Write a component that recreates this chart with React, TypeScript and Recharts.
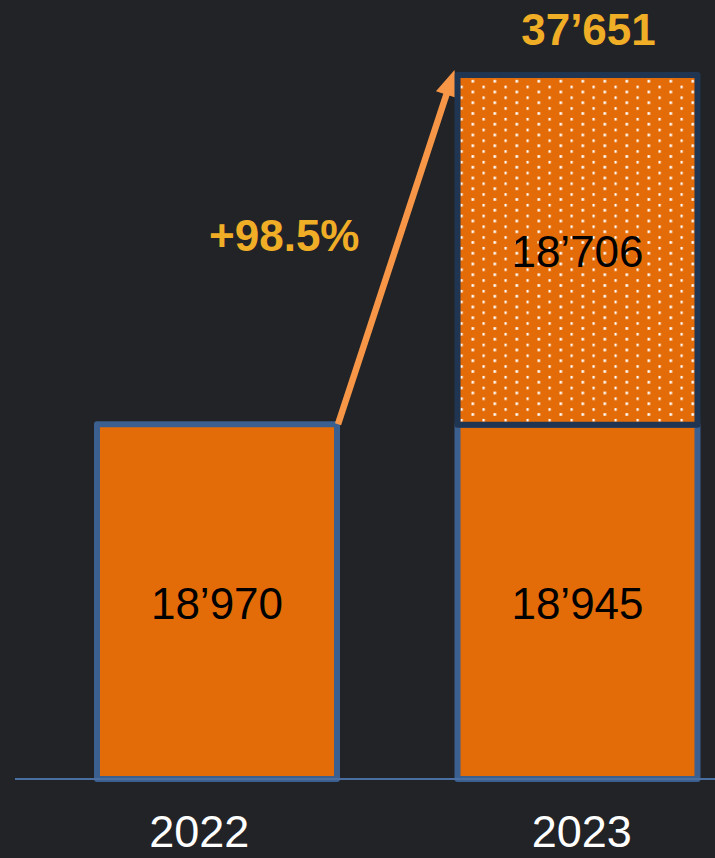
import React from "react";
import { BarChart, Bar, XAxis, YAxis, LabelList } from "recharts";

// chart values
const years = ["2022", "2023"];
const baseValues = [18970, 18945];
const addedValues = [null, 18706];
const totals = [null, 37651];
const growthLabel = "+98.5%";

const BG = "#222327";
const ORANGE = "#E36C09";
const BLUE = "#3B5F8F";
const NAVY = "#1F3552";
const ARROW = "#F79646";
const GOLD = "#F0AE27";
const FONT = "'Liberation Sans', Arial, sans-serif";

const data = years.map((year, i) => ({
  year,
  base: baseValues[i],
  added: addedValues[i],
  total: totals[i],
}));

const fmt = (n: number) => String(n).replace(/\B(?=(\d{3})+(?!\d))/g, "\u2019");

// geometry of the base bars, filled in as they render (used by the arrow)
const baseGeom: Record<number, { x: number; y: number; width: number; height: number }> = {};

const BaseBar = (props: any) => {
  const { x, y, width, height, index } = props;
  baseGeom[index] = { x, y, width, height };
  if (!height || height <= 0) return null;
  return (
    <rect x={x} y={y} width={width} height={height} fill={ORANGE}
      stroke={BLUE} strokeWidth={6} strokeLinejoin="round" />
  );
};

const AddedBar = (props: any) => {
  const { x, y, width, height, index } = props;
  if (!height || height <= 0) return null;

  const prev = baseGeom[index - 1];
  let arrow = null;
  if (prev) {
    const sx = prev.x + prev.width + 1;
    const sy = prev.y;
    const tx = x - 3;
    const ty = y - 5;
    const len = Math.hypot(tx - sx, ty - sy);
    const ux = (tx - sx) / len;
    const uy = (ty - sy) / len;
    const headL = 26;
    const headW = 11;
    const bx = tx - ux * headL;
    const by = ty - uy * headL;
    const mx = (sx + tx) / 2;
    const my = (sy + ty) / 2;
    arrow = (
      <g>
        <line x1={sx} y1={sy} x2={bx + ux * 2} y2={by + uy * 2} stroke={ARROW} strokeWidth={6.5} />
        <polygon
          points={`${tx},${ty} ${bx - uy * headW},${by + ux * headW} ${bx + uy * headW},${by - ux * headW}`}
          fill={ARROW}
        />
        <text x={mx - 112} y={my - 12} textAnchor="middle" dominantBaseline="central"
          fill={GOLD} fontSize={44} fontWeight="bold" fontFamily={FONT}>
          {growthLabel}
        </text>
      </g>
    );
  }

  return (
    <g>
      <defs>
        <pattern id="dots" patternUnits="userSpaceOnUse" x={x + 14} y={y} width={22} height={10.75}>
          <rect width={22} height={10.75} fill={ORANGE} />
          <rect x={0} y={5} width={2.6} height={2.6} fill="#ffffff" />
          <rect x={11} y={0} width={2.2} height={2.6} fill="#ffffff" />
        </pattern>
      </defs>
      {arrow}
      <rect x={x} y={y} width={width} height={height} fill="url(#dots)"
        stroke={NAVY} strokeWidth={6} strokeLinejoin="round" />
    </g>
  );
};

const CenterLabel = (props: any) => {
  const vb = props.viewBox ?? props;
  if (props.value == null || !vb.height) return null;
  return (
    <text x={vb.x + vb.width / 2} y={vb.y + vb.height / 2 + 2} textAnchor="middle"
      dominantBaseline="central" fill="#000000" fontSize={44} fontFamily={FONT}>
      {fmt(props.value)}
    </text>
  );
};

const TotalLabel = (props: any) => {
  const vb = props.viewBox ?? props;
  if (props.value == null) return null;
  return (
    <text x={vb.x + vb.width / 2 + 11} y={vb.y - 45} textAnchor="middle"
      dominantBaseline="central" fill={GOLD} fontSize={44} fontWeight="bold" fontFamily={FONT}>
      {fmt(props.value)}
    </text>
  );
};

const YearTick = (props: any) => {
  const { x, y, payload, index } = props;
  const dx = index === 0 ? -18 : 4;
  return (
    <text x={x + dx} y={y + 68} textAnchor="middle" fill="#ffffff" fontSize={45} fontFamily={FONT}>
      {payload.value}
    </text>
  );
};

export default function App() {
  return (
    <div style={{ position: "fixed", left: 0, top: 0, width: 715, height: 858, overflow: "hidden", background: BG }}>
      <BarChart width={760} height={858} data={data}
        margin={{ top: 31, right: 0, bottom: 0, left: 15 }} barSize={240}>
        <XAxis dataKey="year" height={79} tickLine={false} tickSize={0} tickMargin={0}
          axisLine={{ stroke: "#4A6FA0", strokeWidth: 2 }} padding={{ left: 22, right: 2 }}
          tick={<YearTick />} interval={0} />
        <YAxis hide domain={[0, 40000]} />
        <Bar dataKey="base" stackId="s" shape={<BaseBar />} isAnimationActive={false}>
          <LabelList dataKey="base" content={<CenterLabel />} />
        </Bar>
        <Bar dataKey="added" stackId="s" shape={<AddedBar />} isAnimationActive={false}>
          <LabelList dataKey="added" content={<CenterLabel />} />
          <LabelList dataKey="total" content={<TotalLabel />} />
        </Bar>
      </BarChart>
    </div>
  );
}
